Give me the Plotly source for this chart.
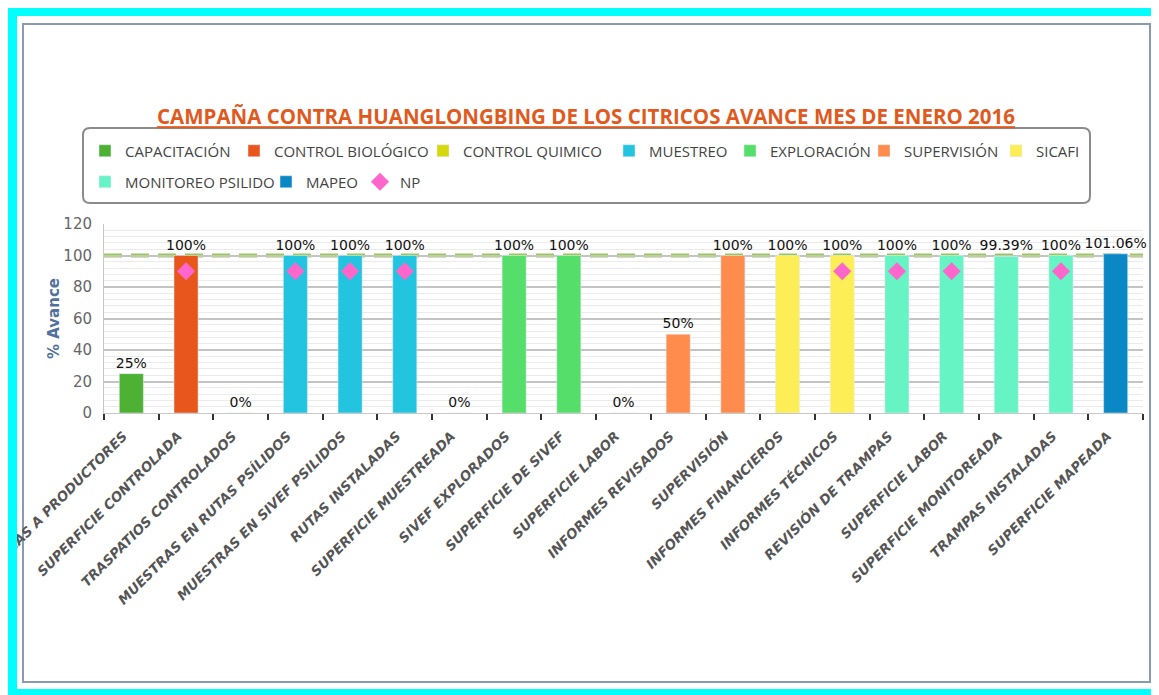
import plotly.graph_objects as go

# categories (x axis), one program per bar
labels = ["PLÁTICAS A PRODUCTORES", "SUPERFICIE CONTROLADA", "TRASPATIOS CONTROLADOS",
          "MUESTRAS EN RUTAS PSÍLIDOS", "MUESTRAS EN SIVEF PSILIDOS", "RUTAS INSTALADAS",
          "SUPERFICIE MUESTREADA", "SIVEF EXPLORADOS", "SUPERFICIE DE SIVEF",
          "SUPERFICIE LABOR", "INFORMES REVISADOS", "SUPERVISIÓN",
          "INFORMES FINANCIEROS", "INFORMES TÉCNICOS", "REVISIÓN DE TRAMPAS",
          "SUPERFICIE LABOR", "SUPERFICIE MONITOREADA", "TRAMPAS INSTALADAS",
          "SUPERFICIE MAPEADA"]
bar_series = ["CAPACITACIÓN", "CONTROL BIOLÓGICO", "CONTROL QUIMICO",
              "MUESTREO", "MUESTREO", "MUESTREO", "MUESTREO",
              "EXPLORACIÓN", "EXPLORACIÓN", "EXPLORACIÓN",
              "SUPERVISIÓN", "SUPERVISIÓN", "SICAFI", "SICAFI",
              "MONITOREO PSILIDO", "MONITOREO PSILIDO", "MONITOREO PSILIDO", "MONITOREO PSILIDO",
              "MAPEO"]
avance = [25, 100, 0, 100, 100, 100, 0, 100, 100, 0, 50, 100, 100, 100, 100, 100, 99.39, 100, 101.06]

# NP markers
np_cats = [1, 3, 4, 5, 13, 14, 15, 17]
np_vals = [90, 90, 90, 90, 90, 90, 90, 90]

meta = 100

series_names = ["CAPACITACIÓN", "CONTROL BIOLÓGICO", "CONTROL QUIMICO", "MUESTREO",
                "EXPLORACIÓN", "SUPERVISIÓN", "SICAFI", "MONITOREO PSILIDO", "MAPEO"]
series_colors = ["#4DB234", "#E8561C", "#D6D80E", "#22C4E0", "#56DE6A",
                 "#FF8C4C", "#FDEE58", "#66F4C4", "#0A88C6"]

# page has an 8px body margin, so the figure is 8px smaller and everything is shifted
OFF = 8
W, H = 1159 - OFF, 695 - OFF
L, R, T, B = 104 - OFF, 1143 - OFF, 224 - OFF, 413 - OFF

# legend entries: where each entry's text starts (page px) and its row centre
legend_text_x = [122, 271, 460, 646, 767, 901, 1033, 122, 303, 397]
legend_row_y = [151] * 7 + [182] * 3


def px(x):
    # page pixel x -> paper
    return (x - OFF - L) / (R - L)


def py(y):
    # page pixel y -> paper
    return (B - (y - OFF)) / (B - T)


def rounded(x0, y0, x1, y1, r):
    rx, ry = r / (R - L), r / (B - T)
    a, b, c, d = px(x0), py(y0), px(x1), py(y1)
    return (f"M{a + rx},{b} L{c - rx},{b} Q{c},{b} {c},{b - ry} "
            f"L{c},{d + ry} Q{c},{d} {c - rx},{d} L{a + rx},{d} Q{a},{d} {a},{d + ry} "
            f"L{a},{b - ry} Q{a},{b} {a + rx},{b} Z")


def legend_id(k):
    return "legend" if k == 0 else f"legend{k + 1}"


fig = go.Figure()
idx = list(range(len(labels)))
for k, (name, color) in enumerate(zip(series_names, series_colors)):
    xs = [i for i in idx if bar_series[i] == name]
    ys = [avance[i] for i in xs]
    fig.add_trace(go.Bar(
        x=xs, y=ys, name=name, marker_color=color, width=0.44,
        text=[f"{v:g}%" for v in ys], textposition="outside", constraintext="none",
        textfont=dict(family="DejaVu Sans", size=14, color="#111"),
        cliponaxis=False, legend=legend_id(k), showlegend=True,
    ))

fig.add_trace(go.Scatter(
    x=np_cats, y=np_vals, mode="markers", name="NP", legend=legend_id(len(series_names)),
    marker=dict(symbol="diamond", size=14, color="#FF66CC"), showlegend=True,
))

cyan = "#00FFFF"
shapes = [
    # inner frame
    dict(type="rect", xref="paper", yref="paper", x0=px(23), x1=px(1150), y0=py(24), y1=py(682),
         line=dict(color="#8A9AB2", width=2), layer="below"),
    # legend box
    dict(type="path", xref="paper", yref="paper", path=rounded(83, 128, 1090, 203, 7),
         line=dict(color="#8C8C8C", width=2), fillcolor="white", layer="below"),
    # meta line
    dict(type="line", xref="paper", yref="y", x0=0, x1=1, y0=meta, y1=meta,
         line=dict(color="#95CC4A", width=4, dash="18px,9px"), layer="between"),
    # outer cyan border
    dict(type="rect", xref="paper", yref="paper", x0=px(0), x1=px(17), y0=py(0), y1=py(700),
         fillcolor=cyan, line_width=0, layer="above"),
    dict(type="rect", xref="paper", yref="paper", x0=px(0), x1=px(1165), y0=py(0), y1=py(16),
         fillcolor=cyan, line_width=0, layer="above"),
    dict(type="rect", xref="paper", yref="paper", x0=px(1153), x1=px(1165), y0=py(0), y1=py(700),
         fillcolor=cyan, line_width=0, layer="above"),
    dict(type="rect", xref="paper", yref="paper", x0=px(0), x1=px(1165), y0=py(689), y1=py(700),
         fillcolor=cyan, line_width=0, layer="above"),
]

legends = {}
for k, (tx, ty) in enumerate(zip(legend_text_x, legend_row_y)):
    legends[legend_id(k)] = dict(
        orientation="h", xanchor="left", yanchor="middle", borderwidth=0,
        x=px(tx - 37), y=py(ty), visible=True,
        bgcolor="rgba(0,0,0,0)", font=dict(family="Open Sans", size=15, color="#444"),
    )

fig.update_layout(
    width=W, height=H,
    margin=dict(l=L, r=W - R, t=T, b=H - B),
    paper_bgcolor="white", plot_bgcolor="white",
    barmode="overlay", showlegend=True,
    title=dict(
        text="<b><u>CAMPAÑA CONTRA HUANGLONGBING DE LOS CITRICOS AVANCE MES DE ENERO 2016</u></b>",
        x=(586 - OFF) / W, xref="container", xanchor="center",
        y=(H - (117 - OFF)) / H, yref="container", yanchor="middle",
        font=dict(family="Open Sans", size=20.5, color="#E05A1E"),
    ),
    shapes=shapes,
    **legends,
)

fig.update_yaxes(
    range=[0, 120], dtick=20, showgrid=True, gridcolor="#C4C4C4", gridwidth=1.5,
    minor=dict(dtick=4, showgrid=True, gridcolor="#EBEBEB", gridwidth=1),
    showline=True, linecolor="#C8C8C8", zeroline=False, ticklabelstandoff=8,
    tickfont=dict(family="DejaVu Sans", size=15, color="#666"),
    title=dict(text="<b>% Avance</b>", standoff=0,
               font=dict(family="DejaVu Sans", size=15, color="#51709C")),
)
fig.update_xaxes(
    range=[-0.5, len(labels) - 0.5], tickmode="array", tickvals=idx, ticktext=labels,
    tickangle=-45, ticks="", automargin=False, showgrid=False, ticklabeloverflow="allow",
    ticklabelshift=-8, ticklabelstandoff=9,
    showline=True, linecolor="#C8C8C8", zeroline=False,
    tickfont=dict(family="DejaVu Sans", size=13.5, color="#555", weight="bold", style="italic"),
    minor=dict(ticks="outside", tickmode="linear", tick0=0.5, dtick=1, ticklen=6, tickwidth=2,
               tickcolor="#333", showgrid=False),
)

fig.write_html("out.html")
